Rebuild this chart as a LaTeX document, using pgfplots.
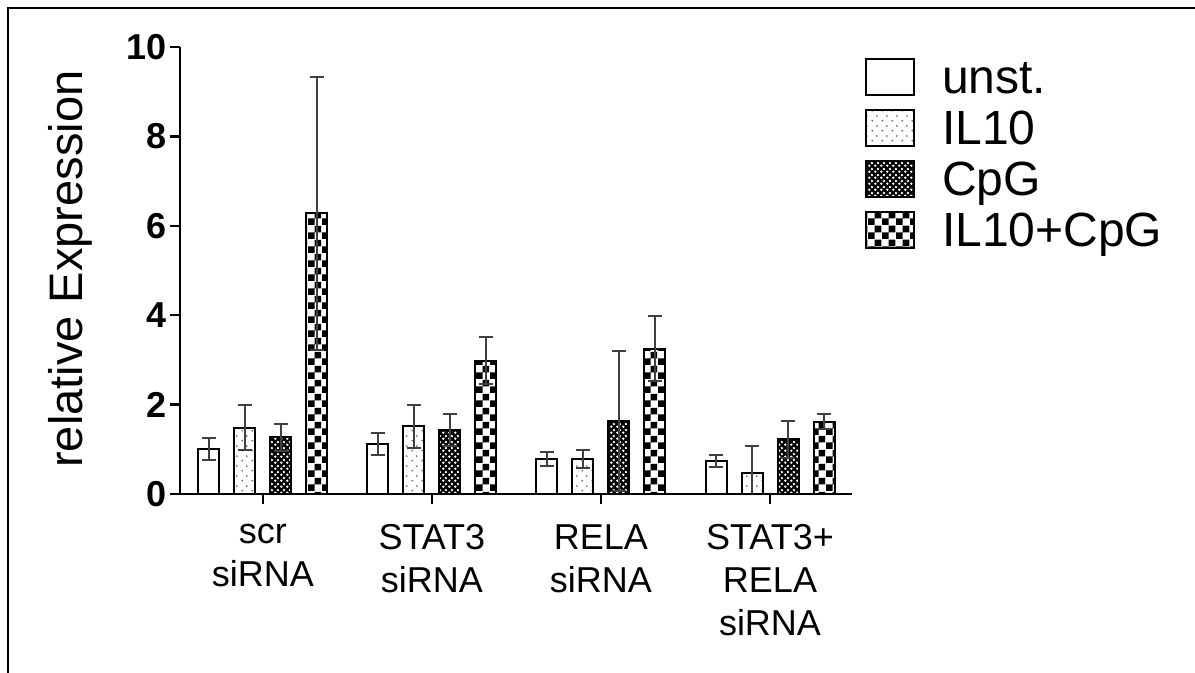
\documentclass[border=0pt]{standalone}
\usepackage{pgfplots}
\pgfplotsset{compat=1.18}
\usepackage{fontspec}
\setmainfont{Liberation Sans}
\usetikzlibrary{patterns}

\pgfdeclarepatternformonly{sparsedots}{\pgfpointorigin}{\pgfqpoint{5pt}{5pt}}{\pgfqpoint{5pt}{5pt}}{%
  \pgfpathcircle{\pgfqpoint{1.25pt}{1.25pt}}{0.55pt}%
  \pgfpathcircle{\pgfqpoint{3.75pt}{3.75pt}}{0.55pt}%
  \pgfusepath{fill}}
\pgfdeclarepatternformonly{holes}{\pgfpointorigin}{\pgfqpoint{2.8pt}{2.8pt}}{\pgfqpoint{2.8pt}{2.8pt}}{%
  \pgfpathcircle{\pgfqpoint{0.7pt}{0.7pt}}{0.7pt}%
  \pgfpathcircle{\pgfqpoint{2.1pt}{2.1pt}}{0.7pt}%
  \pgfusepath{fill}}
\pgfdeclarepatternformonly{bigchecker}{\pgfpointorigin}{\pgfqpoint{7pt}{7pt}}{\pgfqpoint{7pt}{7pt}}{%
  \pgfpathrectangle{\pgfpointorigin}{\pgfqpoint{3.5pt}{3.5pt}}%
  \pgfpathrectangle{\pgfqpoint{3.5pt}{3.5pt}}{\pgfqpoint{3.5pt}{3.5pt}}%
  \pgfusepath{fill}}

\pgfplotsset{
  errstyle/.style={
    error bars/y dir=both, error bars/y explicit,
    error bars/error bar style={line width=1pt, black!75},
    error bars/error mark options={rotate=90, mark size=3.5pt, line width=1pt, black!75}}
}
\newcommand{\rowstrut}{\rule[-6pt]{0pt}{25.5pt}}

\begin{document}
\begin{tikzpicture}
\useasboundingbox (0,0) rectangle (597.5pt,336.5pt);
\begin{axis}[
  at={(90pt,89.5pt)}, anchor=south west, scale only axis,
  width=336pt, height=223.5pt,
  ybar=7.5pt, bar width=10.5pt,
  xmin=-0.49, xmax=3.485, ymin=0, ymax=10,
  axis x line*=bottom, axis y line*=left,
  axis line style={line width=1.25pt, -},
  ytick={0,2,4,6,8,10}, xtick={0,1,2,3},
  xticklabels={{scr\\siRNA},{STAT3\\siRNA},{RELA\\siRNA},{STAT3+\\RELA\\siRNA}},
  tick style={line width=1.25pt, black},
  tick align=outside, major tick length=5pt,
  /pgf/number format/assume math mode=true,
  yticklabel style={font=\bfseries\fontsize{18}{18}\selectfont, inner sep=1.5pt},
  xticklabel style={font=\fontsize{18}{21.5}\selectfont, align=center, anchor=north, inner sep=0pt, yshift=-10pt},
  ylabel={relative Expression},
  every axis y label/.style={at={(axis description cs:-0.163,0.503)}, rotate=90, anchor=center, font=\fontsize{23.5}{23.5}\selectfont},
  legend style={at={(1.010,0.993)}, anchor=north west, draw=none, fill=none,
    font=\fontsize{24}{24}\selectfont, row sep=4.5pt, nodes={inner sep=0pt},
    /tikz/every odd column/.append style={column sep=13.5pt}},
  legend cell align=left,
  legend image code/.code={\draw[#1] (0pt,-9.75pt) rectangle (24pt,8.25pt);},
]
\addplot[draw=black, line width=1pt, fill=white, errstyle]
  coordinates {(0,1.00) +- (0,0.25) (1,1.12) +- (0,0.25) (2,0.78) +- (0,0.16) (3,0.74) +- (0,0.14)};
\addlegendentry{\rowstrut unst.}
\addplot[draw=black, line width=1pt, fill=white,
  postaction={pattern=sparsedots, pattern color=black!55}, errstyle]
  coordinates {(0,1.48) +- (0,0.50) (1,1.52) +- (0,0.48) (2,0.79) +- (0,0.20) (3,0.48) +- (0,0.60)};
\addlegendentry{\rowstrut IL10}
\addplot[draw=black, line width=1pt, fill=black,
  postaction={pattern=holes, pattern color=white}, errstyle]
  coordinates {(0,1.27) +- (0,0.30) (1,1.43) +- (0,0.35) (2,1.63) +- (0,1.57) (3,1.22) +- (0,0.41)};
\addlegendentry{\rowstrut CpG}
\addplot[draw=black, line width=1pt, fill=white,
  postaction={pattern=bigchecker, pattern color=black}, errstyle]
  coordinates {(0,6.28) +- (0,3.05) (1,2.98) +- (0,0.53) (2,3.25) +- (0,0.73) (3,1.62) +- (0,0.16)};
\addlegendentry{\rowstrut IL10+CpG}
\end{axis}
\draw[line width=1pt] (4pt,0pt) -- (4pt,332.5pt) -- (597.5pt,332.5pt);
\end{tikzpicture}
\end{document}
